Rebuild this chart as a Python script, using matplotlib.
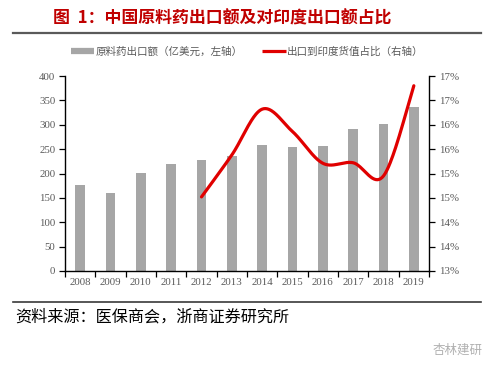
import numpy as np
import matplotlib
matplotlib.use("Agg")
import matplotlib.pyplot as plt
from matplotlib.lines import Line2D

# ---- data ----
years = ["2008", "2009", "2010", "2011", "2012", "2013", "2014", "2015", "2016", "2017", "2018", "2019"]
export_value = [176, 160, 202, 219, 227, 235, 258, 255, 256, 291, 301, 336]
share_years = ["2012", "2013", "2014", "2015", "2016", "2017", "2018", "2019"]
india_share = [0.1452, 0.1538, 0.1632, 0.1586, 0.1521, 0.1522, 0.1495, 0.1680]
left_ticks = [0, 50, 100, 150, 200, 250, 300, 350, 400]
right_ticks = [0.13, 0.135, 0.14, 0.145, 0.15, 0.155, 0.16, 0.165, 0.17]
right_labels = ["13%", "14%", "14%", "15%", "15%", "16%", "16%", "17%", "17%"]
title = "图  1：中国原料药出口额及对印度出口额占比"
bar_label = "原料药出口额（亿美元，左轴）"
line_label = "出口到印度货值占比（右轴）"
source = "资料来源：医保商会，浙商证券研究所"
watermark = "杏林建研"

CJK = ["Noto Sans CJK SC", "DejaVu Sans"]
SERIF = "Liberation Serif"
TICK_COLOR = "#595959"


def smooth(xs, ys, n=40):
    # Excel-style smoothed line (Catmull-Rom as cubic Bezier segments)
    xs = np.asarray(xs, float)
    ys = np.asarray(ys, float)
    px = np.concatenate([[xs[0]], xs, [xs[-1]]])
    py = np.concatenate([[ys[0]], ys, [ys[-1]]])
    outx, outy = [], []
    t = np.linspace(0, 1, n)
    for i in range(1, len(px) - 2):
        p0 = np.array([px[i], py[i]])
        p3 = np.array([px[i + 1], py[i + 1]])
        c1 = p0 + (np.array([px[i + 1], py[i + 1]]) - np.array([px[i - 1], py[i - 1]])) / 6
        c2 = p3 - (np.array([px[i + 2], py[i + 2]]) - np.array([px[i], py[i]])) / 6
        b = ((1 - t) ** 3)[:, None] * p0 + (3 * (1 - t) ** 2 * t)[:, None] * c1 \
            + (3 * (1 - t) * t ** 2)[:, None] * c2 + (t ** 3)[:, None] * p3
        outx.extend(b[:, 0])
        outy.extend(b[:, 1])
    return np.array(outx), np.array(outy)


fig = plt.figure(figsize=(4.99, 3.73), dpi=100)
ax = fig.add_axes([65 / 499, 1 - 271 / 373, (429 - 65) / 499, (271 - 76) / 373])
ax2 = ax.twinx()

x = np.arange(len(years))
ax.bar(x, export_value, width=0.32, color="#A6A6A6", zorder=2)
ax.set_xlim(-0.5, len(years) - 0.5)
ax.set_ylim(0, 400)
ax.set_yticks(left_ticks)
ax.set_yticklabels([str(v) for v in left_ticks])
ax.set_xticks(x)
ax.set_xticklabels(years)
ax.set_xticks(np.arange(-0.5, len(years), 1.0), minor=True)
ax.tick_params(axis="x", which="major", length=0, pad=5)
ax.tick_params(axis="x", which="minor", length=4, width=0.9, direction="out", color="black")
ax.tick_params(axis="y", length=4, width=0.9, direction="out", color="black", pad=3)
for lab in ax.get_xticklabels() + ax.get_yticklabels():
    lab.set_fontfamily(SERIF)
    lab.set_fontsize(7.8)
    lab.set_color(TICK_COLOR)
ax.spines["top"].set_visible(False)
ax.spines["right"].set_visible(False)
for s in ["left", "bottom"]:
    ax.spines[s].set_linewidth(1.0)
    ax.spines[s].set_color("black")

xs_share = np.array([years.index(y) for y in share_years])
sx, sy = smooth(xs_share, india_share)
ax2.plot(sx, sy, color="#E00000", linewidth=2.3, solid_capstyle="round", zorder=3)
ax2.set_ylim(0.13, 0.17)
ax2.set_yticks(right_ticks)
ax2.set_yticklabels(right_labels)
ax2.tick_params(axis="y", length=4, width=0.9, direction="out", color="black", pad=3)
for lab in ax2.get_yticklabels():
    lab.set_fontfamily(SERIF)
    lab.set_fontsize(7.8)
    lab.set_color(TICK_COLOR)
for s in ["top", "left", "bottom"]:
    ax2.spines[s].set_visible(False)
ax2.spines["right"].set_linewidth(1.0)
ax2.spines["right"].set_color("black")

# title
fig.text(53 / 499, 1 - 18 / 373, title, family=CJK, fontsize=12.2, fontweight="bold",
         color="#C00000", ha="left", va="center")
fig.add_artist(Line2D([13 / 499, 481 / 499], [1 - 33 / 373, 1 - 33 / 373],
                      color="#5A5A5A", linewidth=1.6))

# legend
handles = [Line2D([], [], color="#A6A6A6", linewidth=4.5, solid_capstyle="butt"),
           Line2D([], [], color="#E00000", linewidth=2.3, solid_capstyle="butt")]
leg = fig.legend(handles, [bar_label, line_label], loc="center", bbox_to_anchor=(247 / 499, 1 - 52 / 373),
                 ncol=2, frameon=False, prop={"family": CJK, "size": 7.6},
                 handlelength=2.2, handletextpad=0.1, columnspacing=1.9, labelcolor=TICK_COLOR)

# source
fig.add_artist(Line2D([13 / 499, 481 / 499], [1 - 301.5 / 373, 1 - 301.5 / 373],
                      color="#3A3A3A", linewidth=1.2))
fig.text(15 / 499, 1 - 317 / 373, source, family=CJK, fontsize=11.6, color="black",
         ha="left", va="center")

# watermark
fig.text(483 / 499, 1 - 350 / 373, watermark, family=CJK, fontsize=9, color="#B0B0B0",
         ha="right", va="center")

fig.savefig("out.png", dpi=100)
